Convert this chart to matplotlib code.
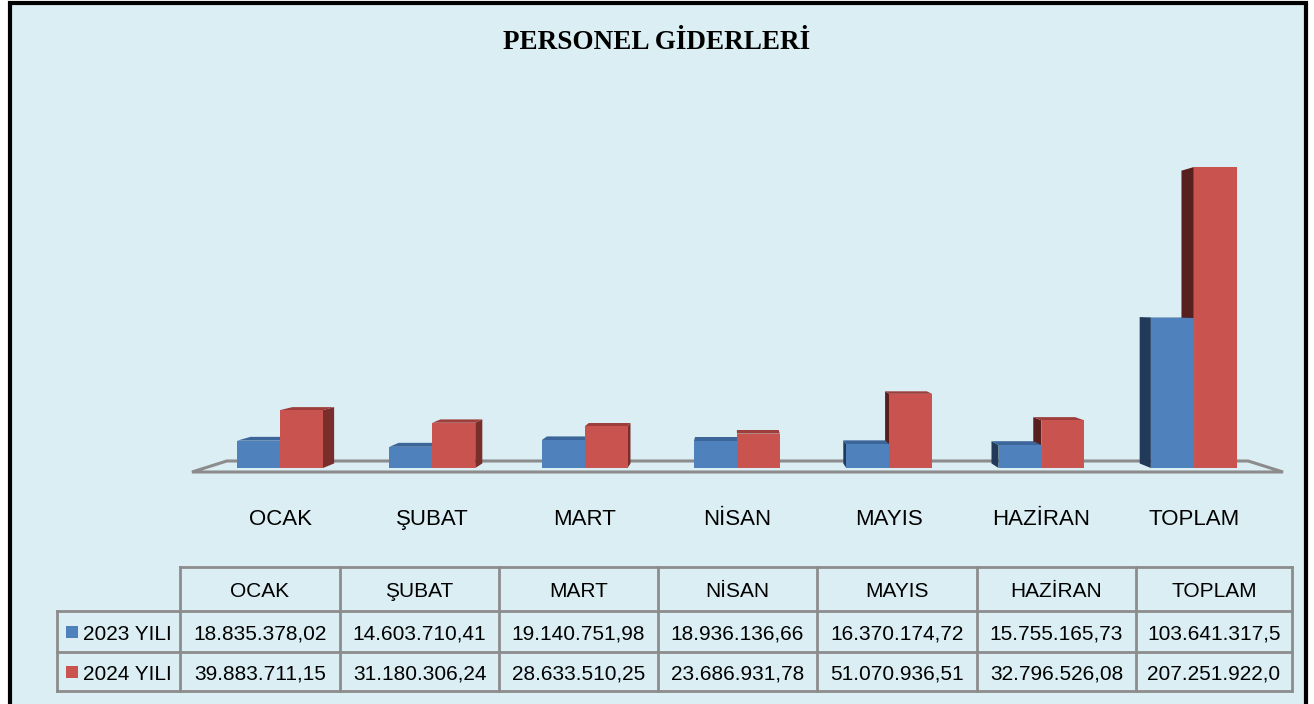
import matplotlib.pyplot as plt
from matplotlib.patches import Polygon, Rectangle

# Personnel expenses by month (TL)
months = ['OCAK', 'ŞUBAT', 'MART', 'NİSAN', 'MAYIS', 'HAZİRAN', 'TOPLAM']
series_names = ['2023 YILI', '2024 YILI']
values_2023 = [18835378.02, 14603710.41, 19140751.98, 18936136.66,
               16370174.72, 15755165.73, 103641317.52]
values_2024 = [39883711.15, 31180306.24, 28633510.25, 23686931.78,
               51070936.51, 32796526.08, 207251922.01]

bg = '#DAEEF3'
front_cols = ['#4F81BD', '#C9544F']
top_cols = ['#3C6699', '#9E3E3B']
right_side_cols = ['#2E5280', '#7A2E2C']
left_side_cols = ['#213A5A', '#571F1E']
grid_col = '#8C8C8C'


def tr_format(v):
    s = f'{v:,.2f}'.replace(',', 'X').replace('.', ',').replace('X', '.')
    return s[:13]  # cell is too narrow for the last digit of the totals


W, H = 1314, 704
fig = plt.figure(figsize=(W / 100, H / 100), dpi=100, facecolor='white')

# background layer (pixel coordinates): frame, title, table
base = fig.add_axes([0, 0, 1, 1], zorder=0)
base.set_xlim(0, W)
base.set_ylim(H, 0)
base.axis('off')
base.add_patch(Rectangle((10, 3), 1296, 720, facecolor=bg, edgecolor='black', lw=3))
base.text(657, 49, 'PERSONEL GİDERLERİ', ha='center', va='baseline',
          fontsize=19.5, fontweight='bold', family='Liberation Serif')

# chart layer: x = category index, y = value in millions
ax = fig.add_axes([0, 0, 1, 1], zorder=1)
ax.patch.set_alpha(0)
ax.axis('off')
px_per_cat = 152.3
px_per_m = 1.452
x0_px, base_px = 280, 468
ax.set_xlim(-x0_px / px_per_cat, (W - x0_px) / px_per_cat)
ax.set_ylim(-(H - base_px) / px_per_m, base_px / px_per_m)

vp = (3.0, 115.7)   # vanishing point of the 3D effect
depth = 0.973
floor_depth = 0.936


def to_back(pt, s):
    return (vp[0] + (pt[0] - vp[0]) * s, vp[1] + (pt[1] - vp[1]) * s)


# floor
fl = [(-0.578, -2.75), (6.586, -2.75)]
floor = fl + [to_back(fl[1], floor_depth), to_back(fl[0], floor_depth)]
ax.add_patch(Polygon(floor, closed=True, facecolor='none', edgecolor=grid_col, lw=2.2))

bw = 0.282
bars = []
for i in range(len(months)):
    for k, vals in enumerate([values_2023, values_2024]):
        x0 = i - bw if k == 0 else i
        bars.append((x0, x0 + bw, vals[i] / 1e6, k))
# paint bars farthest from the vanishing point first
bars.sort(key=lambda b: -abs((b[0] + b[1]) / 2 - vp[0]))

for x0, x1, h, k in bars:
    fr = [(x0, 0), (x1, 0), (x1, h), (x0, h)]
    bk = [to_back(p, depth) for p in fr]
    if x1 < vp[0] - 1e-9:
        ax.add_patch(Polygon([fr[1], fr[2], bk[2], bk[1]], facecolor=right_side_cols[k], lw=0))
    if x0 > vp[0] + 1e-9:
        ax.add_patch(Polygon([fr[0], fr[3], bk[3], bk[0]], facecolor=left_side_cols[k], lw=0))
    if h < vp[1]:
        ax.add_patch(Polygon([fr[3], fr[2], bk[2], bk[3]], facecolor=top_cols[k], lw=0))
    ax.bar(x0, h, width=bw, align='edge', color=front_cols[k], lw=0)

# category labels under the floor (x from chart axis, y in pixels)
for i, m in enumerate(months):
    xp = ax.transData.transform((i, 0))[0]
    base.text(xp, 525, m, ha='center', va='baseline', fontsize=16,
              family='Liberation Sans')

# data table
col_edges = [180, 340, 499, 658, 817, 977, 1136, 1292]
row_edges = [567, 611, 652, 691]
leg_left = 57
lw = 2
base.plot([col_edges[0], col_edges[-1]], [row_edges[0]] * 2, color=grid_col, lw=lw)
for y in row_edges[1:]:
    base.plot([leg_left, col_edges[-1]], [y, y], color=grid_col, lw=lw)
for x in col_edges:
    base.plot([x, x], [row_edges[0], row_edges[-1]], color=grid_col, lw=lw)
base.plot([leg_left, leg_left], [row_edges[1], row_edges[-1]], color=grid_col, lw=lw)

for j, m in enumerate(months):
    cx = (col_edges[j] + col_edges[j + 1]) / 2
    base.text(cx, (row_edges[0] + row_edges[1]) / 2 + 8, m, ha='center', va='baseline',
              fontsize=15, family='Liberation Sans')
    for r, vals in enumerate([values_2023, values_2024]):
        cy = (row_edges[r + 1] + row_edges[r + 2]) / 2 + 8
        base.text(cx, cy, tr_format(vals[j]), ha='center', va='baseline',
                  fontsize=15, family='Liberation Sans')

for r, name in enumerate(series_names):
    cy = (row_edges[r + 1] + row_edges[r + 2]) / 2
    base.add_patch(Rectangle((66, cy - 6), 12, 12, facecolor=front_cols[r], lw=0))
    base.text(83, cy + 8, name, ha='left', va='baseline', fontsize=15,
              family='Liberation Sans')

fig.savefig('out.png', dpi=100, facecolor='white')
